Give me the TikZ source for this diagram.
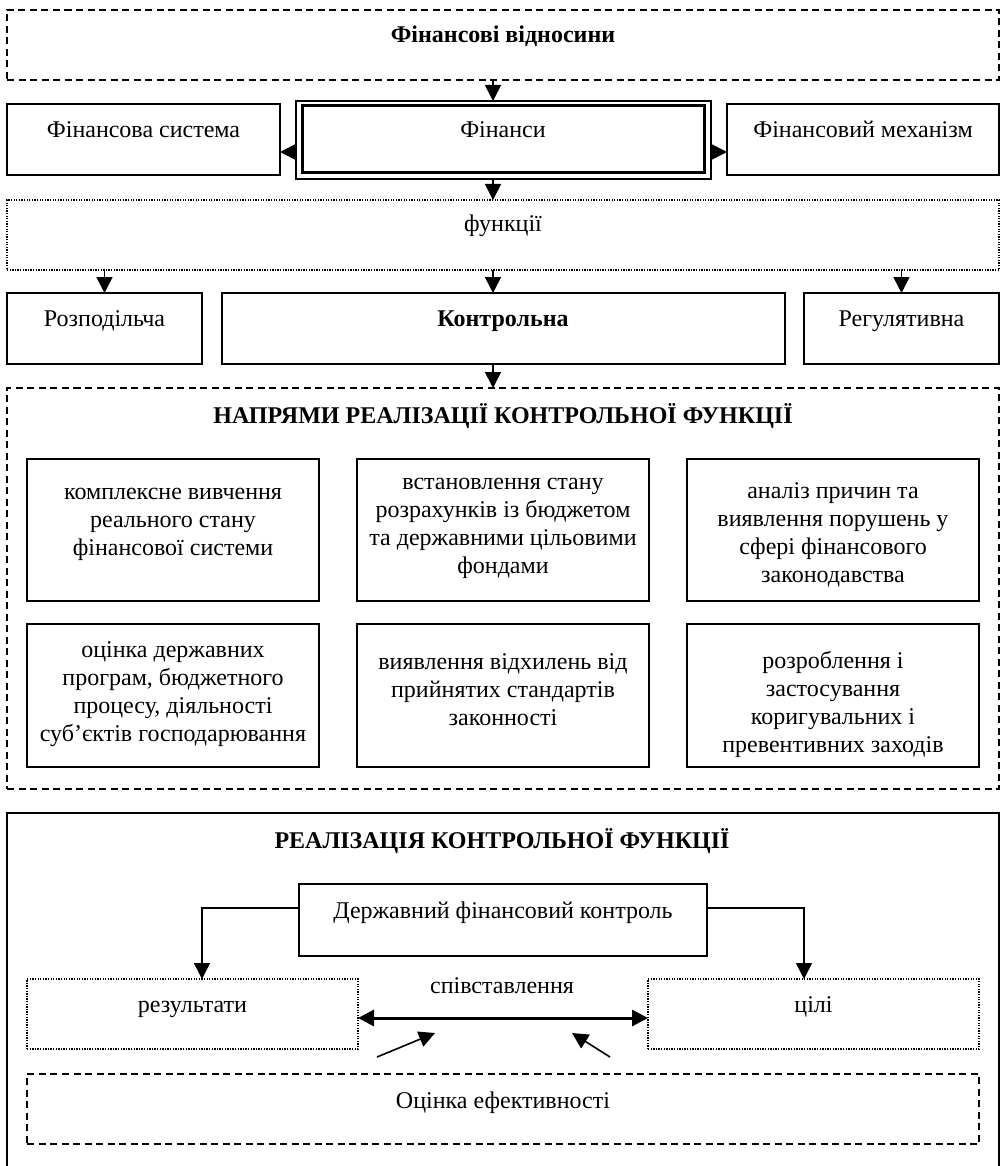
\documentclass[tikz,border=0pt]{standalone}
\usepackage{fontspec}
\setmainfont{Liberation Serif}
\usetikzlibrary{arrows.meta}
\newcommand\bx[6]{\node[#6, minimum width={#4-#2}, minimum height={#5-#3}] (#1) at ({(#2+#4)/2},{(#3+#5)/2}) {};}
\begin{document}
\begin{tikzpicture}[x=1pt,y=-1pt,
  font=\fontsize{24}{28}\selectfont,
  shp/.style={inner sep=0pt, outer sep=0pt},
  solidbox/.style={shp, draw, line width=1.8pt},
  dashbox/.style={shp, draw, line width=1.5pt, dash pattern=on 7pt off 4.5pt},
  dotbox/.style={shp, draw, line width=1.6pt, dash pattern=on 1.3pt off 1.3pt},
  txt/.style={inner sep=0pt, anchor=base, align=center},
  arr/.style={line width=1.6pt, -{Triangle[length=16pt,width=16pt]}},
  darr/.style={line width=3pt, {Triangle[length=16pt,width=16pt]}-{Triangle[length=16pt,width=16pt]}}]
\useasboundingbox (0,0) rectangle (1001,1166);
\clip (0,0) rectangle (1001,1166);
\fill[white] (0,0) rectangle (1001,1166);
% guide coordinates
\coordinate (axis) at (493,0);
\coordinate (ay1) at (0,152);
% top
\bx{rel}{7}{10}{999}{80}{dashbox}
\node[txt, font=\fontsize{24}{28}\selectfont\bfseries] (trel) at (503,43) {Фінансові відносини};
\bx{fs}{7}{104}{280}{175}{solidbox}
\node[txt] (tfs) at (143.5,138) {Фінансова система};
\bx{fin}{296}{101}{711}{179}{solidbox}
\bx{fininner}{302}{106}{704}{173}{shp, draw, line width=3pt}
\node[txt] (tfin) at (503,138) {Фінанси};
\bx{fm}{727}{104}{999}{175}{solidbox}
\node[txt] (tfm) at (863,138) {Фінансовий механізм};
\draw[arr] (rel.south -| axis) -- (fin.north -| axis);
\draw[arr] (fin.west |- ay1) -- (fs.east |- ay1);
\draw[arr] (fin.east |- ay1) -- (fm.west |- ay1);
% functions
\bx{fun}{7}{200}{999}{270}{dotbox}
\node[txt] (tfun) at (503,232) {функції};
\draw[arr] (fin.south -| axis) -- (fun.north -| axis);
\bx{rozp}{7}{293}{202}{364}{solidbox}
\node[txt] (trozp) at (104.5,326) {Розподільча};
\bx{kontr}{222}{293}{785}{364}{solidbox}
\node[txt, font=\fontsize{24}{28}\selectfont\bfseries] (tkontr) at (503,326) {Контрольна};
\bx{reg}{804}{293}{999}{364}{solidbox}
\node[txt] (treg) at (901.5,326) {Регулятивна};
\draw[arr] (fun.south -| rozp.north) -- (rozp.north);
\draw[arr] (fun.south -| axis) -- (kontr.north -| axis);
\draw[arr] (fun.south -| reg.north) -- (reg.north);
% directions
\bx{napr}{7}{388}{999}{789}{dashbox}
\draw[arr] (kontr.south -| axis) -- (napr.north -| axis);
\node[txt, font=\fontsize{24}{28}\selectfont\bfseries] (tnapr) at (503,423) {НАПРЯМИ РЕАЛІЗАЦІЇ КОНТРОЛЬНОЇ ФУНКЦІЇ};
\bx{b1}{27}{459}{319}{601}{solidbox}
\bx{b2}{357}{459}{649}{601}{solidbox}
\bx{b3}{687}{459}{979}{601}{solidbox}
\bx{b4}{27}{624}{319}{767}{solidbox}
\bx{b5}{357}{624}{649}{767}{solidbox}
\bx{b6}{687}{624}{979}{767}{solidbox}
% base anchor = baseline of the last line
\node[txt] (tb1) at (173,555) {комплексне вивчення\\реального стану\\фінансової системи};
\node[txt] (tb2) at (503,573) {встановлення стану\\розрахунків із бюджетом\\та державними цільовими\\фондами};
\node[txt] (tb3) at (833,582) {аналіз причин та\\виявлення порушень у\\сфері фінансового\\законодавства};
\node[txt] (tb4) at (173,741) {оцінка державних\\програм, бюджетного\\процесу, діяльності\\суб’єктів господарювання};
\node[txt] (tb5) at (503,725) {виявлення відхилень від\\прийнятих стандартів\\законності};
\node[txt] (tb6) at (833,752) {розроблення і\\застосування\\коригувальних і\\превентивних заходів};
% realisation
\bx{real}{7}{813}{999}{1190}{solidbox}
\node[txt, font=\fontsize{24}{28}\selectfont\bfseries] (treal) at (502,848) {РЕАЛІЗАЦІЯ КОНТРОЛЬНОЇ ФУНКЦІЇ};
\bx{dfk}{299}{884}{707}{956}{solidbox}
\node[txt] (tdfk) at (503,918) {Державний фінансовий контроль};
\bx{res}{27}{979}{358}{1049}{dotbox}
\node[txt] (tres) at (192.5,1012) {результати};
\bx{goal}{648}{979}{979}{1049}{dotbox}
\node[txt] (tgoal) at (813.5,1012) {цілі};
\node[txt] (tcmp) at (502,993) {співставлення};
\coordinate (ly) at (0,908);
\coordinate (lx) at (202,0);
\coordinate (rx) at (804,0);
\coordinate (ay2) at (0,1018);
\draw[arr] (dfk.west |- ly) -| (lx |- res.north);
\draw[arr] (dfk.east |- ly) -| (rx |- goal.north);
\draw[darr] (res.east |- ay2) -- (goal.west |- ay2);
\bx{eff}{27}{1074}{979}{1144}{dashbox}
\node[txt] (teff) at (503,1108) {Оцінка ефективності};
\coordinate (d1s) at (377,1057);
\coordinate (d1e) at (435,1033);
\coordinate (d2s) at (610,1057);
\coordinate (d2e) at (572,1033);
\draw[arr] (d1s) -- (d1e);
\draw[arr] (d2s) -- (d2e);
\end{tikzpicture}
\end{document}
